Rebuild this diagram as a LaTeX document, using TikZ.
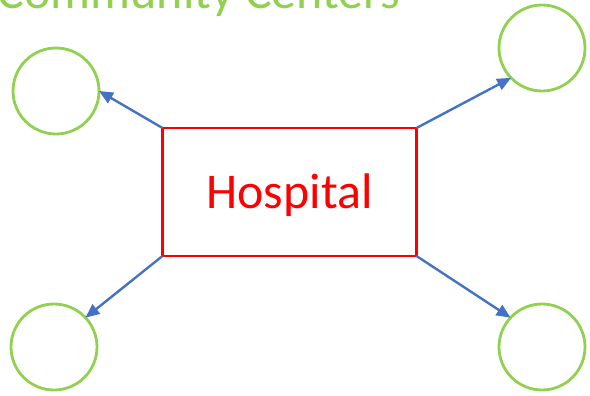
\documentclass[tikz,border=0pt]{standalone}
\usepackage{fontspec}
\setmainfont{Carlito}
\usetikzlibrary{arrows.meta}
\definecolor{ccgreen}{HTML}{92D050}
\definecolor{linkblue}{HTML}{4472C4}
\begin{document}
\begin{tikzpicture}[x=1pt,y=-1pt,
    center/.style={circle, draw=ccgreen, line width=2.8pt, minimum size=86pt, inner sep=0pt, outer sep=0pt},
    hospbox/.style={rectangle, draw=red, line width=2.5pt, minimum width=254pt, minimum height=128pt,
      inner sep=0pt, outer sep=0pt, text=red, text height=42pt, text depth=10pt,
      font=\fontsize{50}{60}\selectfont},
    link/.style={draw=linkblue, line width=2.4pt, -{Triangle[length=14pt,width=12pt]}}]
  \useasboundingbox (0,0) rectangle (590,396);

  \node[anchor=base east, text=ccgreen, font=\fontsize{50}{60}\selectfont, inner sep=0pt] (title) at (400,9) {Community Centers};

  \node[hospbox] (hosp) at (289.5,192) {Hospital};

  \node[center] (ctl) at (56,91) {};
  \node[center] (ctr) at (542,48) {};
  \node[center] (cbl) at (54,347) {};
  \node[center] (cbr) at (542,347) {};

  \draw[link] (hosp.north west) -- (ctl.east);
  \draw[link] (hosp.north east) -- (ctr.224);
  \draw[link] (hosp.south west) -- (cbl.43);
  \draw[link] (hosp.south east) -- (cbr.137);
\end{tikzpicture}
\end{document}
